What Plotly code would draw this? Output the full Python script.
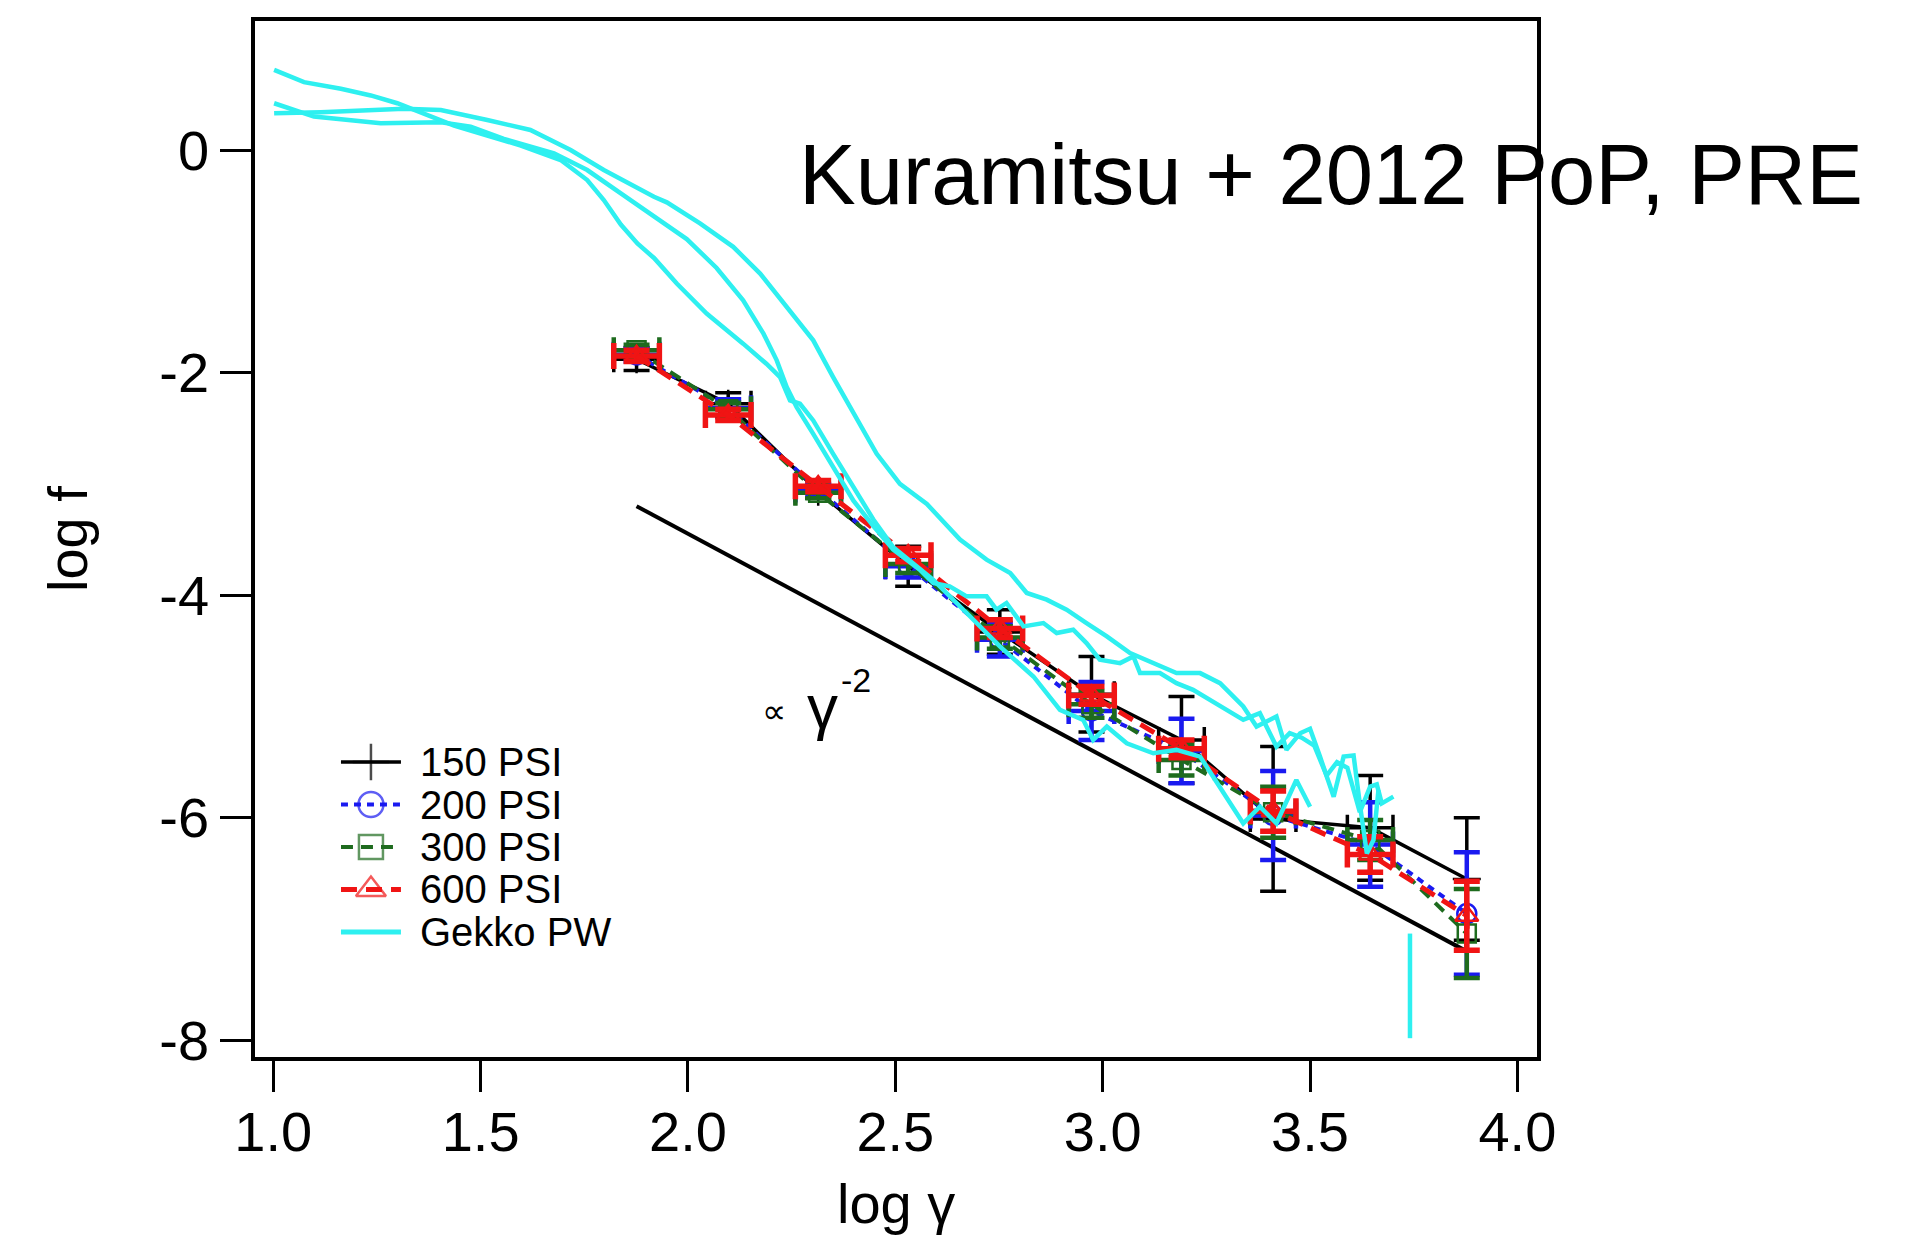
import plotly.graph_objects as go

FONT = "Liberation Sans, Arial, Helvetica, sans-serif"

# ---- measured spectra: log f versus log gamma ----
log_gamma = [1.876, 2.097, 2.314, 2.531, 2.752, 2.973, 3.190, 3.411, 3.645, 3.878]
log_gamma_err = [0.055, 0.055, 0.055, 0.055, 0.055, 0.055, 0.055, 0.055, 0.055, 0.0]

f_150 = [-1.88, -2.28, -3.07, -3.74, -4.33, -4.89, -5.30, -6.01, -6.09, -6.55]
f_150_err = [0.10, 0.10, 0.06, 0.18, 0.20, 0.34, 0.39, 0.65, 0.47, 0.55]

f_200 = [-1.84, -2.32, -3.05, -3.74, -4.40, -5.04, -5.40, -5.98, -6.24, -6.86]
f_200_err = [0.06, 0.08, 0.05, 0.10, 0.15, 0.26, 0.29, 0.40, 0.38, 0.55]

f_300 = [-1.80, -2.33, -3.08, -3.72, -4.38, -4.98, -5.48, -5.95, -6.20, -7.04]
f_300_err = [0.05, 0.06, 0.05, 0.08, 0.10, 0.12, 0.14, 0.23, 0.18, 0.40]

f_600 = [-1.85, -2.38, -3.02, -3.64, -4.30, -4.90, -5.38, -5.94, -6.33, -6.88]
f_600_err = [0.05, 0.05, 0.05, 0.06, 0.08, 0.08, 0.08, 0.18, 0.16, 0.31]

# ---- Gekko PW simulation spectra ----
gekko_a_x = [1.002, 1.074, 1.163, 1.235, 1.299, 1.371, 1.436, 1.516, 1.597, 1.693,
             1.757, 1.797, 1.838, 1.878, 1.918, 1.973, 2.045, 2.133, 2.189, 2.222,
             2.246, 2.270, 2.302, 2.350, 2.399, 2.447, 2.495, 2.591, 2.672, 2.752,
             2.833, 2.897, 2.953, 2.977, 3.010, 3.058, 3.122, 3.178, 3.235, 3.283,
             3.339, 3.379, 3.419, 3.467, 3.500]
gekko_a_y = [0.72, 0.61, 0.55, 0.49, 0.42, 0.31, 0.22, 0.13, 0.04, -0.09,
             -0.27, -0.45, -0.67, -0.84, -0.97, -1.20, -1.47, -1.74, -1.92, -2.04,
             -2.25, -2.28, -2.43, -2.73, -3.03, -3.32, -3.57, -3.86, -4.16, -4.46,
             -4.73, -5.03, -5.12, -5.30, -5.18, -5.33, -5.42, -5.39, -5.45, -5.72,
             -6.05, -5.90, -6.05, -5.66, -5.90]

gekko_b_x = [1.002, 1.098, 1.259, 1.404, 1.476, 1.556, 1.677, 1.757, 1.838, 1.918,
             1.997, 2.069, 2.133, 2.182, 2.214, 2.238, 2.262, 2.302, 2.350, 2.399,
             2.447, 2.495, 2.559, 2.591, 2.631, 2.672, 2.720, 2.744, 2.768, 2.809,
             2.857, 2.889, 2.929, 2.961, 2.993, 3.042, 3.074, 3.090, 3.138, 3.178,
             3.218, 3.259, 3.299, 3.339, 3.379, 3.419, 3.451, 3.480, 3.510, 3.540,
             3.565, 3.590, 3.620, 3.645, 3.661, 3.673, 3.701]
gekko_b_y = [0.42, 0.30, 0.24, 0.25, 0.21, 0.10, -0.03, -0.18, -0.39, -0.60,
             -0.80, -1.06, -1.35, -1.65, -1.89, -2.13, -2.31, -2.55, -2.85, -3.15,
             -3.38, -3.59, -3.77, -3.89, -3.92, -4.01, -4.01, -4.13, -4.07, -4.28,
             -4.25, -4.34, -4.31, -4.43, -4.58, -4.61, -4.55, -4.70, -4.70, -4.79,
             -4.85, -4.94, -5.03, -5.12, -5.06, -5.36, -5.24, -5.28, -5.35, -5.62,
             -5.50, -5.55, -5.95, -5.72, -5.70, -5.87, -5.81]

gekko_c_x = [1.002, 1.114, 1.315, 1.404, 1.516, 1.620, 1.717, 1.797, 1.918, 1.949,
             2.029, 2.109, 2.174, 2.238, 2.302, 2.350, 2.399, 2.455, 2.511, 2.576,
             2.656, 2.720, 2.777, 2.817, 2.865, 2.913, 2.961, 3.010, 3.066, 3.122,
             3.178, 3.235, 3.283, 3.339, 3.371, 3.419, 3.443, 3.476, 3.500, 3.524,
             3.557, 3.581, 3.605, 3.621, 3.637, 3.653, 3.665]
gekko_c_y = [0.33, 0.34, 0.37, 0.36, 0.27, 0.18, 0.00, -0.18, -0.42, -0.47,
             -0.66, -0.87, -1.11, -1.41, -1.71, -2.04, -2.37, -2.73, -3.00, -3.18,
             -3.50, -3.68, -3.80, -3.98, -4.04, -4.13, -4.25, -4.37, -4.52, -4.61,
             -4.70, -4.70, -4.79, -5.00, -5.18, -5.09, -5.39, -5.24, -5.20, -5.45,
             -5.81, -5.45, -5.44, -5.90, -6.32, -6.20, -5.75]

gekko_tail_x = [3.741, 3.741]
gekko_tail_y = [-7.04, -7.98]

# ---- gamma^-2 reference slope ----
guide_x = [1.876, 3.878]
guide_y = [-3.20, -7.20]

# ---- axis ticks ----
x_ticks = [1.0, 1.5, 2.0, 2.5, 3.0, 3.5, 4.0]
x_tick_text = ["1.0", "1.5", "2.0", "2.5", "3.0", "3.5", "4.0"]
y_ticks = [-8, -6, -4, -2, 0]
y_tick_text = ["-8", "-6", "-4", "-2", "0"]

# ---- legend entries ----
legend_labels = ["150 PSI", "200 PSI", "300 PSI", "600 PSI", "Gekko PW"]
legend_rows = [4, 3, 2, 1, 0]

CYAN = "#2EF0F0"
series = [
    dict(name="150 PSI", y=f_150, err=f_150_err, color="#000000", dash="solid",
         width=3.5, symbol="cross-thin", msize=20, ebw=3.5),
    dict(name="200 PSI", y=f_200, err=f_200_err, color="#1A1AF0", dash="7px,6px",
         width=4, symbol="circle-open", msize=19, ebw=4.5),
    dict(name="300 PSI", y=f_300, err=f_300_err, color="#1E6B1E", dash="12px,8px",
         width=4, symbol="square-open", msize=18, ebw=4.5),
    dict(name="600 PSI", y=f_600, err=f_600_err, color="#F01414", dash="16px,9px",
         width=5, symbol="triangle-up-open", msize=20, ebw=5.5),
]

fig = go.Figure()

# guide line (gamma^-2)
fig.add_trace(go.Scatter(x=guide_x, y=guide_y, mode="lines",
                         line=dict(color="black", width=4), showlegend=False,
                         hoverinfo="skip"))

for s in series:
    fig.add_trace(go.Scatter(
        x=log_gamma, y=s["y"], mode="lines+markers", name=s["name"],
        line=dict(color=s["color"], width=s["width"], dash=s["dash"]),
        marker=dict(symbol=s["symbol"], size=s["msize"], color=s["color"],
                    line=dict(color=s["color"], width=2.5)),
        error_y=dict(type="data", array=s["err"], visible=True,
                     color=s["color"], thickness=s["ebw"], width=13),
        error_x=dict(type="data", array=log_gamma_err, visible=True,
                     color=s["color"], thickness=s["ebw"], width=13),
        showlegend=False,
    ))

for gx, gy in [(gekko_a_x, gekko_a_y), (gekko_b_x, gekko_b_y),
               (gekko_c_x, gekko_c_y), (gekko_tail_x, gekko_tail_y)]:
    fig.add_trace(go.Scatter(x=gx, y=gy, mode="lines",
                             line=dict(color=CYAN, width=4.5),
                             showlegend=False, hoverinfo="skip"))

# ---- legend drawn on its own small axes ----
leg_styles = series + [dict(name="Gekko PW", color=CYAN, dash="solid", width=4.5,
                            symbol=None, msize=0)]
for row, s in zip(legend_rows, leg_styles):
    if s["symbol"] is None:
        fig.add_trace(go.Scatter(x=[0, 1], y=[row, row], mode="lines",
                                 line=dict(color=s["color"], width=5),
                                 xaxis="x2", yaxis="y2", showlegend=False,
                                 hoverinfo="skip"))
    else:
        fig.add_trace(go.Scatter(
            x=[0, 0.5, 1], y=[row, row, row], mode="lines+markers",
            line=dict(color=s["color"], width=s["width"], dash=s["dash"]),
            marker=dict(symbol=s["symbol"], size=[0, s["msize"] + 6, 0],
                        color=s["color"], line=dict(color=s["color"], width=2.5)),
            xaxis="x2", yaxis="y2", showlegend=False, hoverinfo="skip"))

annotations = []
for row, label in zip(legend_rows, legend_labels):
    annotations.append(dict(x=1.28, y=row, xref="x2", yref="y2", text=label,
                            showarrow=False, xanchor="left", yanchor="middle",
                            font=dict(family=FONT, size=40, color="black")))

# slope label
annotations += [
    dict(x=2.207, y=-5.04, xref="x", yref="y", text="∝", showarrow=False,
         xanchor="center", yanchor="middle", font=dict(family=FONT, size=34, color="black")),
    dict(x=2.325, y=-5.00, xref="x", yref="y", text="γ", showarrow=False,
         xanchor="center", yanchor="middle", font=dict(family=FONT, size=62, color="black")),
    dict(x=2.405, y=-4.76, xref="x", yref="y", text="-2", showarrow=False,
         xanchor="center", yanchor="middle", font=dict(family=FONT, size=34, color="black")),
]

# citation and axis titles
annotations += [
    dict(x=0.4228, y=0.8514, xref="paper", yref="paper",
         text="Kuramitsu + 2012 PoP, PRE", showarrow=False,
         xanchor="left", yanchor="middle",
         font=dict(family=FONT, size=85, color="black")),
    dict(x=0.5, y=-0.141, xref="paper", yref="paper", text="log γ",
         showarrow=False, xanchor="center", yanchor="middle",
         font=dict(family=FONT, size=56, color="black")),
    dict(x=-0.1466, y=0.5, xref="paper", yref="paper", text="log f",
         showarrow=False, xanchor="center", yanchor="middle", textangle=-90,
         font=dict(family=FONT, size=56, color="black")),
]

axis_common = dict(showgrid=False, zeroline=False, showline=True, linewidth=3.5,
                   linecolor="black", mirror=True, ticks="outside", ticklen=31,
                   tickwidth=3, tickcolor="black",
                   tickfont=dict(family=FONT, size=56, color="black"))

fig.update_layout(
    width=1922, height=1237,
    margin=dict(l=255, r=385, t=21, b=180, autoexpand=False),
    paper_bgcolor="white", plot_bgcolor="white",
    font=dict(family=FONT, color="black"),
    xaxis=dict(range=[0.9559, 4.0473], tickvals=x_ticks, ticktext=x_tick_text,
               ticklabelstandoff=-8, **axis_common),
    yaxis=dict(range=[-8.149, 1.159], tickvals=y_ticks, ticktext=y_tick_text,
               **axis_common),
    # legend key axes: x from -0.2 to 3.5 keeps the label anchors inside the range
    xaxis2=dict(domain=[0.0577, 0.2308], range=[-0.2, 3.5], visible=False,
                anchor="y2", fixedrange=True),
    yaxis2=dict(domain=[0.1002, 0.3052], range=[-0.5, 4.5], visible=False,
                anchor="x2", fixedrange=True),
    annotations=annotations,
    showlegend=False,
)

fig.write_html("out.html")
